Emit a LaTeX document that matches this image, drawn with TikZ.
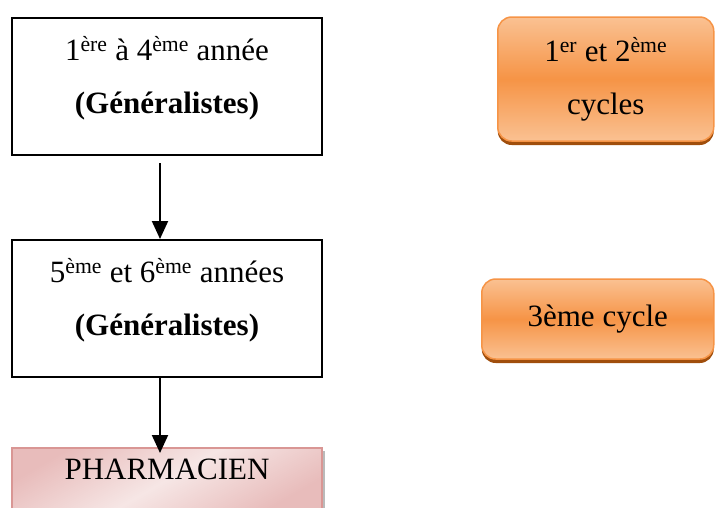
\documentclass[tikz,border=0pt]{standalone}
\usepackage{fontspec}
\setmainfont{Liberation Serif}
\usetikzlibrary{
  positioning,
  shadows,
  arrows.meta
}
\definecolor{orangeclair}{HTML}{FAC192}
\definecolor{orangevif}{HTML}{F69446}
\definecolor{orangeombre}{HTML}{A04E0C}
\definecolor{roseclair}{HTML}{F6E6E5}
\definecolor{rosefonce}{HTML}{E8BCBB}
\definecolor{rosebord}{HTML}{D99694}
\newcommand{\fond}[1]{\rule[-#1]{0pt}{#1}}

\begin{document}
\begin{tikzpicture}[x=1pt,y=1pt,
    every node/.style={font=\fontsize{31}{53}\selectfont, align=center, inner sep=0pt},
    annee/.style={draw, line width=2pt, minimum width=310pt, minimum height=137pt},
    cyclebox/.style={draw=orangevif, line width=1.5pt, rounded corners=14pt,
      top color=orangeclair, bottom color=orangeclair, middle color=orangevif,
      drop shadow={shadow xshift=0pt, shadow yshift=-4pt, fill=orangeombre, opacity=1}},
    metier/.style={draw=rosebord, line width=2pt, minimum width=310pt, minimum height=63pt,
      top color=rosefonce, bottom color=rosefonce, middle color=roseclair, shading angle=30,
      drop shadow={shadow xshift=3pt, shadow yshift=-3pt, fill=black!45, opacity=0.6}},
    fleche/.style={-{Triangle[length=18pt,width=16pt]}, line width=2pt}
  ]
  \clip (0,0) rectangle (716,-507);

  \node[annee] (a14) at (167,-86.5)
    {1\textsuperscript{ère} à 4\textsuperscript{ème} année\\\textbf{(Généralistes)}\fond{23pt}};
  \node[annee, below = 83pt of a14] (a56)
    {5\textsuperscript{ème} et 6\textsuperscript{ème} années\\\textbf{(Généralistes)}\fond{23pt}};
  \node[metier, below = 69pt of a56] (pharm) {PHARMACIEN\fond{20pt}};

  \node[cyclebox, minimum width=216pt, minimum height=124pt,
        right = 174pt of a14, yshift=7.5pt] (c12)
    {1\textsuperscript{er} et 2\textsuperscript{ème}\\cycles};
  \node[cyclebox, minimum width=232pt, minimum height=80pt,
        right = 158pt of a56, yshift=-10.5pt] (c3) {3ème cycle};

  \draw[fleche] ([xshift=-7pt,yshift=-7pt]a14.south) -- ([xshift=-7pt]a56.north);
  \draw[fleche] ([xshift=-7pt]a56.south) -- ([xshift=-7pt,yshift=-6pt]pharm.north);
\end{tikzpicture}
\end{document}
